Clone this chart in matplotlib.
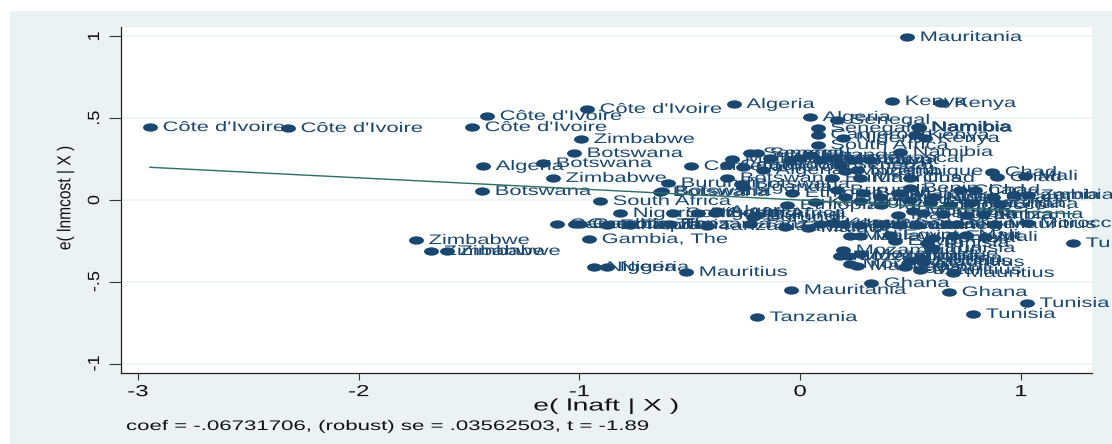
import matplotlib
matplotlib.use("Agg")
import matplotlib.pyplot as plt
from matplotlib.markers import MarkerStyle
from matplotlib.patches import Rectangle
from matplotlib.path import Path
from matplotlib.patheffects import AbstractPathEffect
from matplotlib.transforms import Affine2D

# values
countries = [
    "Mauritania", "Kenya", "Kenya", "Algeria", "Algeria", "Senegal", "Senegal",
    "Côte d'Ivoire", "Côte d'Ivoire", "Côte d'Ivoire", "Côte d'Ivoire", "Côte d'Ivoire",
    "Zimbabwe", "Botswana", "Botswana", "Algeria", "Zimbabwe", "Botswana", "Burundi",
    "Botswana", "Botswana", "South Africa", "Nigeria", "Zimbabwe", "Zimbabwe", "Zimbabwe",
    "Gambia, The", "Nigeria", "Nigeria", "Mauritius", "Mauritania", "Tanzania", "Ghana",
    "Ghana", "Tunisia", "Tunisia", "Tunisia", "Chad", "Chad", "Mali",
    "Namibia", "Namibia", "Namibia", "Kenya", "Kenya", "Nigeria", "Cameroon", "South Africa",
    "Namibia", "Mali", "Cameroon", "Senegal", "Senegal", "Morocco", "Malawi", "Uganda",
    "Madagascar", "Ghana", "Senegal", "Algeria", "Cameroon", "Cameroon", "Mozambique",
    "Nigeria", "Botswana", "Burundi", "Mauritius", "Chad", "Rwanda", "Mali", "Egypt",
    "Uganda", "Botswana", "Ethiopia", "Burundi", "Benin", "Mauritania", "Malawi", "Benin",
    "Niger", "Chad", "Chad", "Ghana", "Zambia", "Zambia", "Ghana", "Kenya", "Ethiopia",
    "Tanzania", "Uganda", "Guinea", "Sudan", "Egypt", "Morocco", "Rwanda",
    "South Africa", "Nigeria", "Algeria", "South Africa", "Burundi", "Burundi", "Mali",
    "Morocco", "Namibia", "Egypt", "Zambia", "Tanzania",
    "Cameroon", "Gambia, The", "Gambia, The", "Ethiopia", "Tanzania", "Tanzania", "Tanzania",
    "Tanzania", "Tanzania", "Malawi", "Malawi", "Kenya", "Uganda", "Malawi", "Rwanda", "Sudan",
    "Guinea", "Benin", "Niger", "Mauritius", "Morocco",
    "Mali", "Malawi", "Egypt", "Egypt", "Tunisia", "Tunisia", "Egypt", "Mali", "Mali",
    "Mozambique", "Mozambique", "Mozambique", "Mozambique", "Tunisia", "Tunisia", "Mauritius",
    "Morocco", "Madagascar", "Mauritius", "Mauritius", "Egypt", "Mauritius",
]
aid_resid = [
    0.485, 0.417, 0.64, -0.30, 0.045, 0.168, 0.08,
    -2.945, -2.32, -1.418, -1.486, -0.965,
    -0.992, -1.024, -1.164, -1.436, -1.119, -1.44, -0.598,
    -0.625, -0.634, -0.906, -0.815, -1.74, -1.672, -1.60,
    -0.956, -0.933, -0.874, -0.516, -0.04, -0.195, 0.322,
    0.675, 1.028, 0.784, 1.237, 0.87, 0.892, 1.02,
    0.535, 0.537, 0.54, 0.52, 0.566, 0.195, 0.08, 0.08,
    0.453, -0.308, -0.33, -0.226, -0.195, -0.136, -0.045, 0.045,
    0.149, 0.24, 0.181, -0.168, -0.258, -0.494, 0.204,
    0.258, -0.33, 0.145, 0.272, 0.498, 0.09, 0.0, 0.317,
    -0.258, -0.267, -0.036, 0.168, 0.285, 0.362, 0.453, 0.498,
    0.602, 0.725, 0.793, 0.874, 0.969, 1.033, 0.906, 0.068, -0.059,
    0.367, 0.498, 0.589, 0.204, 0.272, 0.68, 0.77,
    -0.575, -0.462, -0.376, -0.385, -0.213, -0.195, 0.444,
    0.512, 0.557, 0.648, 0.757, 0.829,
    -1.101, -1.02, -0.997, -0.874, -0.77, -0.589, -0.421,
    -0.226, -0.068, 0.036, 0.09, 0.145, 0.195, 0.272, 0.376, 0.453,
    0.53, 0.666, 0.711, 0.883, 1.028,
    0.226, 0.272, 0.43, 0.408, 0.575, 0.602, 0.693, 0.75, 0.838,
    0.195, 0.181, 0.217, 0.272, 0.544, 0.602, 0.557,
    0.226, 0.258, 0.544, 0.693, 0.476, 0.498,
]
cost_resid = [
    0.997, 0.605, 0.593, 0.587, 0.508, 0.49, 0.44,
    0.446, 0.44, 0.514, 0.446, 0.557,
    0.373, 0.287, 0.226, 0.208, 0.135, 0.055, 0.104,
    0.055, 0.049, -0.006, -0.08, -0.245, -0.312, -0.312,
    -0.239, -0.41, -0.41, -0.44, -0.55, -0.716, -0.508,
    -0.563, -0.63, -0.697, -0.263, 0.171, 0.14, 0.147,
    0.446, 0.447, 0.443, 0.397, 0.379, 0.379, 0.40, 0.336,
    0.294, 0.251, 0.214, 0.287, 0.287, 0.257, 0.245, 0.275,
    0.257, 0.245, 0.214, 0.183, 0.202, 0.208, 0.177,
    0.183, 0.135, 0.135, 0.135, 0.135, 0.245, 0.257, 0.245,
    0.08, 0.098, 0.043, 0.061, 0.043, 0.018, 0.043, 0.073,
    0.018, 0.061, 0.061, 0.018, 0.031, 0.031, -0.024, -0.012, -0.031,
    -0.031, 0.0, -0.018, 0.018, -0.006, -0.031, -0.018,
    -0.08, -0.08, -0.067, -0.08, -0.104, -0.092, -0.092,
    -0.067, -0.08, -0.086, -0.092, -0.086,
    -0.147, -0.147, -0.147, -0.153, -0.153, -0.147, -0.159,
    -0.147, -0.165, -0.171, -0.147, -0.141, -0.147, -0.153, -0.147, -0.153,
    -0.153, -0.147, -0.147, -0.147, -0.141,
    -0.22, -0.22, -0.251, -0.214, -0.263, -0.232, -0.22, -0.214, -0.226,
    -0.306, -0.343, -0.343, -0.33, -0.355, -0.294, -0.379,
    -0.391, -0.404, -0.428, -0.446, -0.41, -0.373,
]
fit_x = [-2.945, 1.246]
fit_y = [0.2, -0.085]
x_ticks = [-3, -2, -1, 0, 1]
x_tick_labels = ["-3", "-2", "-1", "0", "1"]
y_ticks = [-1, -0.5, 0, 0.5, 1]
y_tick_labels = ["-1", "-.5", "0", ".5", "1"]

PANEL = "#eaf2f3"
NAVY = "#1a476f"
GREEN = "#2d6d66"
INK = "#111111"


class StretchX(AbstractPathEffect):
    # the picture is stretched sideways, text included
    def __init__(self, factor, center=False):
        super().__init__()
        self.factor = factor
        self.center = center

    def draw_path(self, renderer, gc, tpath, affine, rgbFace=None):
        xs = affine.transform(tpath.vertices)[:, 0]
        pivot = (xs.min() + xs.max()) / 2 if self.center else xs.min()
        stretch = Affine2D().translate(-pivot, 0).scale(self.factor, 1).translate(pivot, 0)
        renderer.draw_path(gc, tpath, affine + stretch, rgbFace)


plt.rcParams["font.family"] = "Liberation Sans"

W, H = 1112, 444
fig = plt.figure(figsize=(W / 100, H / 100), dpi=100, facecolor="white")
fig.patches.append(Rectangle((10 / W, 0), 1 - 10 / W, 1 - 11 / H, transform=fig.transFigure,
                             facecolor=PANEL, edgecolor="none", zorder=-5))

ax = fig.add_axes([121 / W, 1 - 373 / H, (1092 - 121) / W, (373 - 27) / H])
ax.set_facecolor("white")
ax.set_xlim(-3.076, 1.323)
ax.set_ylim(-1.058, 1.058)
ax.set_axisbelow(True)
ax.grid(axis="y", color=PANEL, linewidth=1.1)
for side in ["top", "right"]:
    ax.spines[side].set_visible(False)
for side in ["left", "bottom"]:
    ax.spines[side].set_color("#222222")
    ax.spines[side].set_linewidth(0.9)

ax.set_xticks(x_ticks)
ax.set_xticklabels(x_tick_labels, fontsize=11.5, color=INK)
ax.set_yticks(y_ticks)
ax.set_yticklabels(y_tick_labels, fontsize=13, color=INK, rotation=90, va="center")
ax.tick_params(axis="x", length=5, width=0.8, color="#333333", pad=3)
ax.tick_params(axis="y", length=8.5, width=0.8, color="#333333", pad=4)
for lab in ax.get_xticklabels():
    lab.set_path_effects([StretchX(1.5, center=True)])
for lab in ax.get_yticklabels():
    lab.set_path_effects([StretchX(0.9, center=True)])

ellipse = Path.unit_circle().transformed(Affine2D().scale(1, 0.56))
ax.scatter(aid_resid, cost_resid, s=115, marker=MarkerStyle(ellipse), color=NAVY,
           linewidths=0, zorder=3, clip_on=False)
ax.plot(fit_x, fit_y, color=GREEN, linewidth=1.0, zorder=5)

for name, x, y in zip(countries, aid_resid, cost_resid):
    ax.annotate(name, (x, y), xytext=(9.1, 0), textcoords="offset points", va="center",
                fontsize=10, color=NAVY, zorder=4, annotation_clip=False,
                path_effects=[StretchX(1.58)])

fig.text(606 / W, 1 - 406 / H, "e( lnaft | X )", ha="center", va="center", fontsize=12,
         color=INK, path_effects=[StretchX(1.7, center=True)])
fig.text(65 / W, 1 - 198 / H, "e( lnmcost | X )", ha="center", va="center", fontsize=11.2,
         rotation=90, color=INK, path_effects=[StretchX(1.2, center=True)])
fig.text(126 / W, 1 - 426 / H, "coef = -.06731706, (robust) se = .03562503, t = -1.89",
         ha="left", va="center", fontsize=10, color=INK, path_effects=[StretchX(1.6)])

fig.savefig("out.png", dpi=100)
